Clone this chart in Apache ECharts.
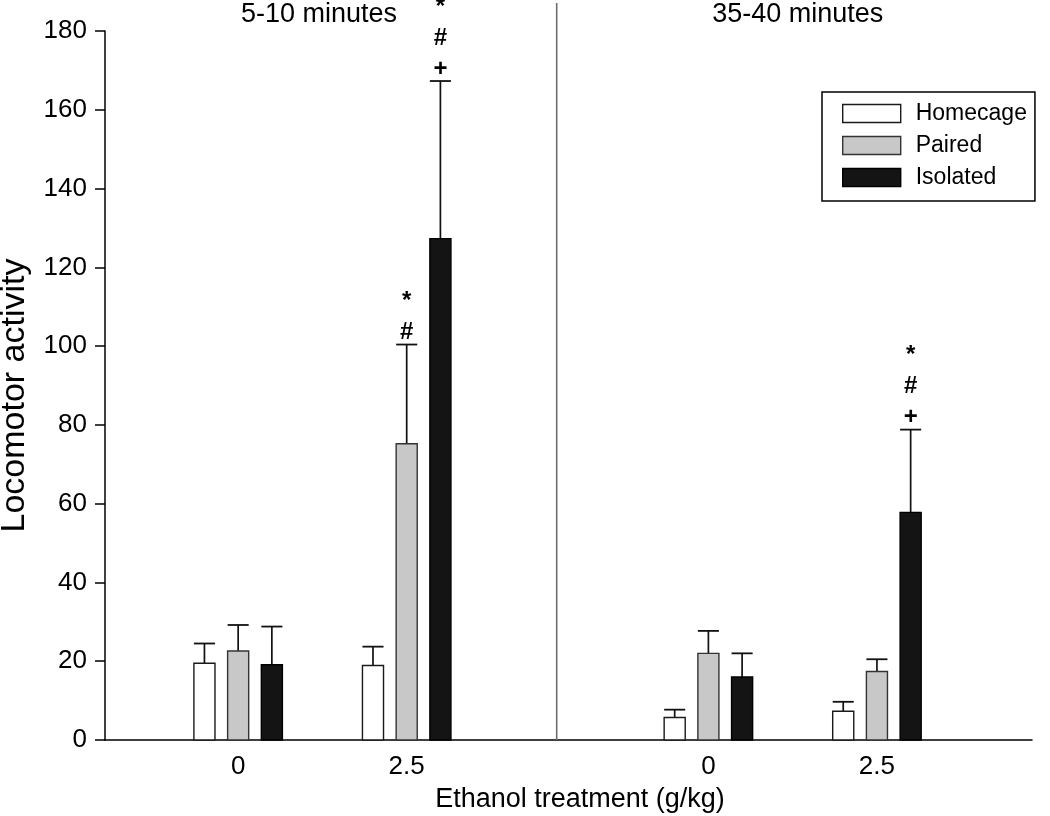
<!DOCTYPE html>
<html>
<head>
<meta charset="utf-8">
<script src="https://cdn.jsdelivr.net/npm/echarts@6/dist/echarts.min.js"></script>
<style>
  html, body { margin: 0; padding: 0; background: #fff; }
  #chart { width: 1050px; height: 816px; }
</style>
</head>
<body>
<div id="chart"></div>
<script>
// ---------------- DATA ----------------
const doseLabels = ['0', '2.5', '0', '2.5'];
const periodTitles = ['5-10 minutes', '35-40 minutes'];
const seriesNames = ['Homecage', 'Paired', 'Isolated'];

const homecageMean = [19.5, 18.9, 5.7, 7.3];
const homecageUpper = [24.5, 23.7, 7.7, 9.7];
const pairedMean = [22.6, 75.2, 22.0, 17.4];
const pairedUpper = [29.2, 100.4, 27.7, 20.5];
const isolatedMean = [19.1, 127.3, 16.0, 57.8];
const isolatedUpper = [28.8, 167.3, 22.0, 78.8];

const homecageMarks = ['', '', '', ''];
const pairedMarks = ['', '*#', '', ''];
const isolatedMarks = ['', '*#+', '', '*#+'];

const yMin = 0, yMax = 180, yInterval = 20;

// ---------------- LAYOUT ----------------
const groupPos = [0.79, 1.79, 3.58, 4.58];
const dividerPos = 2.68;
const xMax = 5.5;
const barStep = 0.2;
const barWidthUnits = 0.125;
const FONT = '"Liberation Sans", Arial, Helvetica, sans-serif';

const styles = [
  { fill: '#ffffff', stroke: '#1a1a1a' },
  { fill: '#c8c8c8', stroke: '#333333' },
  { fill: '#141414', stroke: '#000000' }
];

function makeRender(sIdx, marks) {
  return function (params, api) {
    const gx = api.value(0) + (sIdx - 1) * barStep;
    const mean = api.value(1);
    const upper = api.value(2);
    const base = api.coord([gx, 0]);
    const pm = api.coord([gx, mean]);
    const pu = api.coord([gx, upper]);
    const w = api.size([barWidthUnits, 0])[0];
    const cx = base[0];
    const children = [
      {
        type: 'line',
        shape: { x1: cx, y1: pm[1], x2: cx, y2: pu[1] },
        style: { stroke: '#111', lineWidth: 1.7 }
      },
      {
        type: 'line',
        shape: { x1: cx - w / 2, y1: pu[1], x2: cx + w / 2, y2: pu[1] },
        style: { stroke: '#111', lineWidth: 1.8 }
      },
      {
        type: 'rect',
        shape: { x: cx - w / 2, y: pm[1], width: w, height: base[1] - pm[1] },
        style: { fill: styles[sIdx].fill, stroke: styles[sIdx].stroke, lineWidth: 1.4 }
      }
    ];
    const m = marks[params.dataIndex] || '';
    const chars = m.split('').reverse();
    chars.forEach(function (ch, i) {
      children.push({
        type: 'text',
        x: cx,
        y: pu[1] - 12 - 31 * i,
        style: {
          text: ch,
          align: 'center',
          verticalAlign: 'middle',
          font: 'bold 24px ' + FONT,
          fill: '#000'
        }
      });
    });
    return { type: 'group', children: children };
  };
}

function buildData(mean, upper) {
  return groupPos.map(function (g, i) { return [g, mean[i], upper[i]]; });
}

const chart = echarts.init(document.getElementById('chart'), null, { renderer: 'canvas' });

const option = {
  animation: false,
  backgroundColor: '#ffffff',
  textStyle: { fontFamily: FONT },
  grid: { left: 105, right: 18, top: 31, bottom: 76, containLabel: false, outerBoundsMode: 'none' },
  legend: {
    orient: 'vertical',
    left: 822,
    top: 92,
    borderColor: '#000',
    borderWidth: 1.5,
    padding: [10, 8, 12, 20],
    itemWidth: 58,
    itemHeight: 18,
    itemGap: 9,
    textStyle: { fontSize: 23, color: '#000', fontFamily: FONT, padding: [0, 0, 0, 10] },
    data: seriesNames.map(function (n, i) {
      return {
        name: n,
        icon: 'rect',
        itemStyle: { color: styles[i].fill, borderColor: styles[i].stroke, borderWidth: 1.4 }
      };
    })
  },
  xAxis: {
    type: 'value',
    min: 0,
    max: xMax,
    name: 'Ethanol treatment (g/kg)',
    nameLocation: 'middle',
    nameGap: 46,
    nameTextStyle: { fontSize: 27, color: '#000', fontFamily: FONT, padding: [0, 0, 0, 23] },
    axisLine: { show: true, onZero: false, lineStyle: { color: '#000', width: 1.5 } },
    axisTick: { show: false },
    splitLine: { show: false },
    axisLabel: {
      customValues: groupPos,
      fontSize: 26,
      color: '#000',
      fontFamily: FONT,
      margin: 14,
      formatter: function (v) {
        let best = 0, bd = Infinity;
        groupPos.forEach(function (g, i) { const d = Math.abs(g - v); if (d < bd) { bd = d; best = i; } });
        return doseLabels[best];
      }
    }
  },
  yAxis: {
    type: 'value',
    min: yMin,
    max: yMax,
    interval: yInterval,
    name: 'Locomotor activity',
    nameLocation: 'middle',
    nameGap: 73,
    nameTextStyle: { fontSize: 34, color: '#000', fontFamily: FONT, padding: [0, 20, 0, 0] },
    axisLine: { show: true, lineStyle: { color: '#000', width: 1.5 } },
    axisTick: { show: true, length: 10, lineStyle: { color: '#000', width: 1.5 } },
    splitLine: { show: false },
    axisLabel: { fontSize: 26, color: '#000', fontFamily: FONT, margin: 18 }
  },
  series: [
    {
      name: seriesNames[0], type: 'custom', renderItem: makeRender(0, homecageMarks),
      itemStyle: { color: styles[0].fill, borderColor: styles[0].stroke },
      encode: { x: 0, y: [1, 2] }, data: buildData(homecageMean, homecageUpper), clip: false, z: 3
    },
    {
      name: seriesNames[1], type: 'custom', renderItem: makeRender(1, pairedMarks),
      itemStyle: { color: styles[1].fill, borderColor: styles[1].stroke },
      encode: { x: 0, y: [1, 2] }, data: buildData(pairedMean, pairedUpper), clip: false, z: 3
    },
    {
      name: seriesNames[2], type: 'custom', renderItem: makeRender(2, isolatedMarks),
      itemStyle: { color: styles[2].fill, borderColor: styles[2].stroke },
      encode: { x: 0, y: [1, 2] }, data: buildData(isolatedMean, isolatedUpper), clip: false, z: 3
    }
  ]
};

chart.setOption(option);

const divX = chart.convertToPixel({ xAxisIndex: 0 }, dividerPos);
const baseY = chart.convertToPixel({ yAxisIndex: 0 }, 0);
const t1X = chart.convertToPixel({ xAxisIndex: 0 }, 1.27);
const t2X = chart.convertToPixel({ xAxisIndex: 0 }, 4.11);

chart.setOption({
  graphic: [
    {
      type: 'line', z: 1,
      shape: { x1: divX, y1: 3, x2: divX, y2: baseY },
      style: { stroke: '#6e6e6e', lineWidth: 1.6 }
    },
    {
      type: 'text', x: t1X, y: 15,
      style: { text: periodTitles[0], align: 'center', verticalAlign: 'middle', font: '27px ' + FONT, fill: '#000' }
    },
    {
      type: 'text', x: t2X, y: 15,
      style: { text: periodTitles[1], align: 'center', verticalAlign: 'middle', font: '27px ' + FONT, fill: '#000' }
    }
  ]
});
</script>
</body>
</html>
